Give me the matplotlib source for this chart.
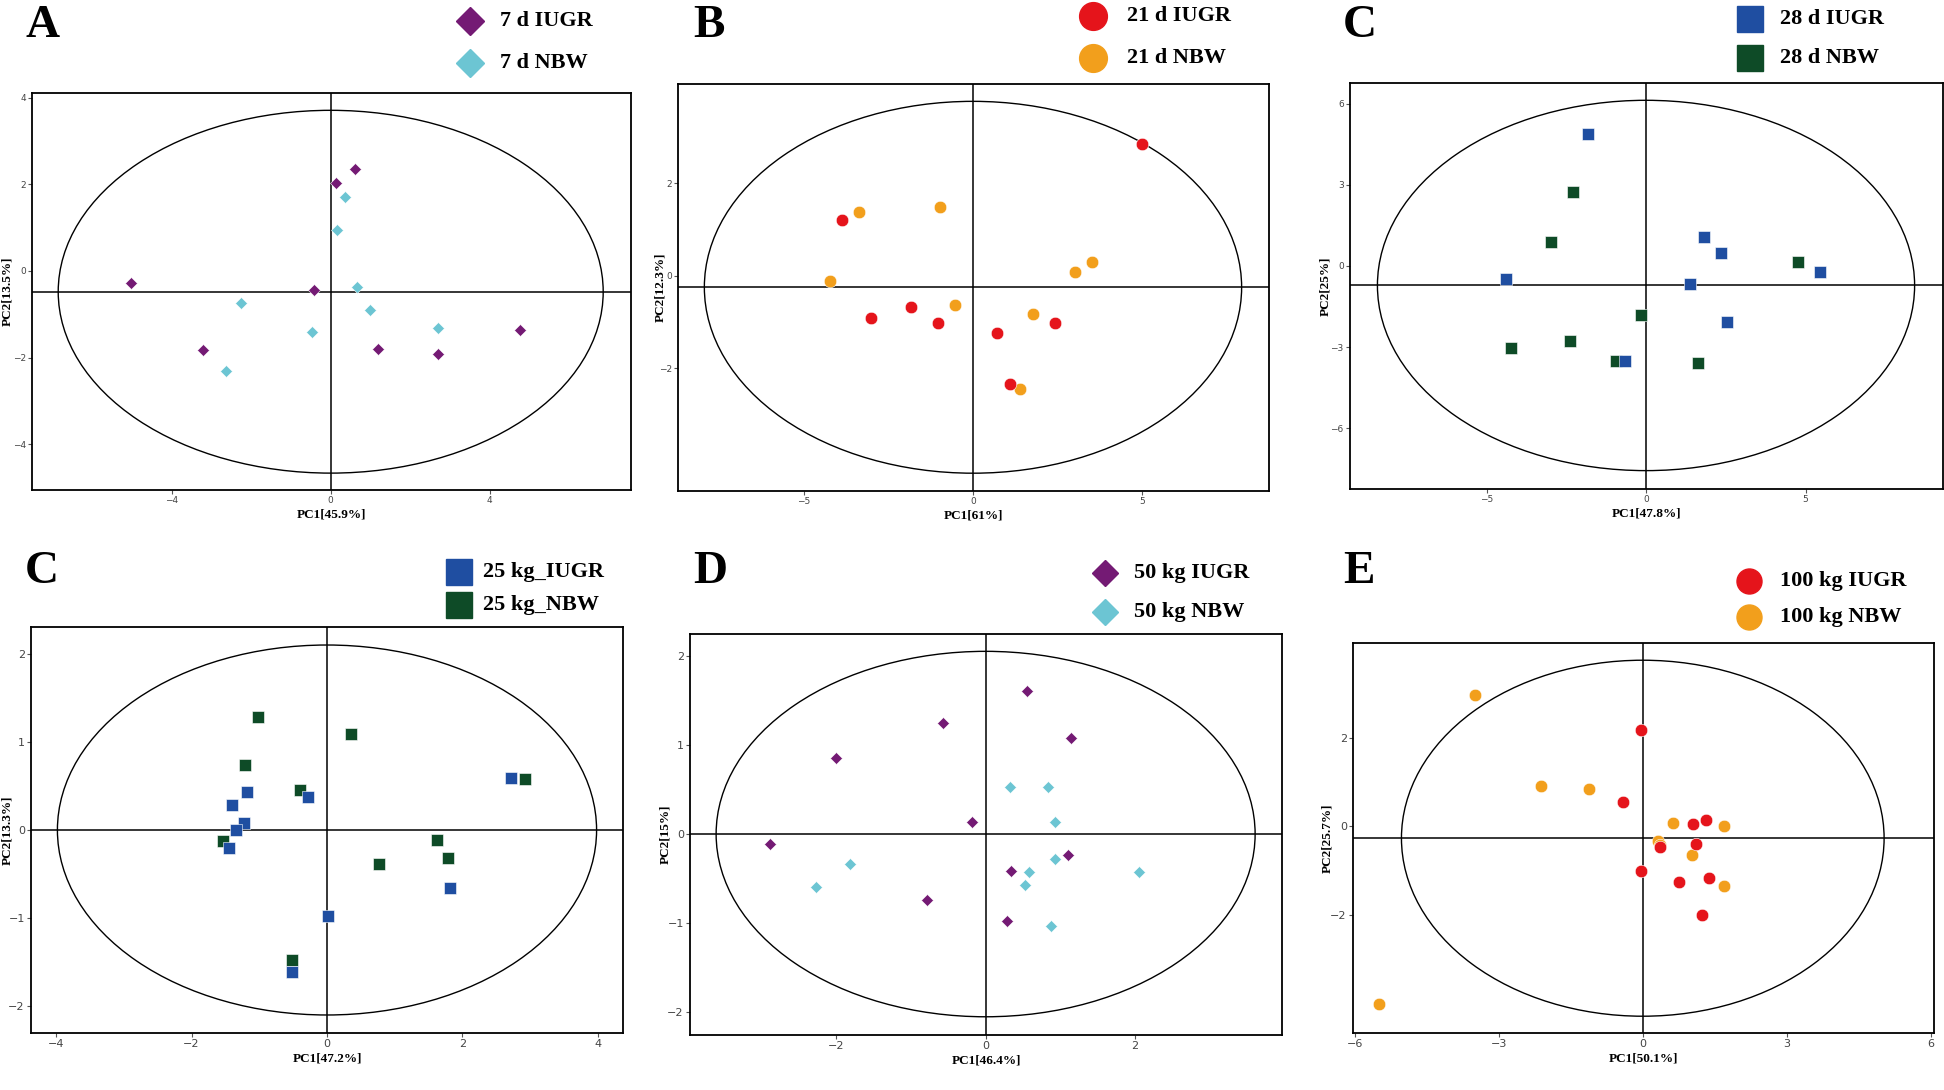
import matplotlib
matplotlib.use("Agg")
import matplotlib.pyplot as plt
from matplotlib.patches import Ellipse
from matplotlib.lines import Line2D

W, H = 1944, 1090

# ===== Panel A: 7 d =====
a_iugr_x = [0.62, 0.13, -5.03, -0.43, -3.22, 1.20, 2.69, 4.76]
a_iugr_y = [2.35, 2.04, -0.28, -0.45, -1.83, -1.80, -1.91, -1.37]
a_nbw_x = [0.36, 0.16, 0.66, -2.26, 1.00, -0.48, 2.69, -2.63]
a_nbw_y = [1.70, 0.95, -0.38, -0.74, -0.91, -1.40, -1.31, -2.32]

# ===== Panel B: 21 d =====
b_iugr_x = [5.01, -3.89, -3.03, -1.82, -1.04, 0.71, 2.44, 1.09]
b_iugr_y = [2.85, 1.20, -0.92, -0.68, -1.01, -1.23, -1.02, -2.34]
b_nbw_x = [-3.37, -0.98, -4.24, -0.54, 1.79, 3.03, 3.53, 1.40]
b_nbw_y = [1.38, 1.50, -0.12, -0.63, -0.83, 0.09, 0.30, -2.45]

# ===== Panel C (top): 28 d =====
c_iugr_x = [-1.81, -4.40, 1.82, 2.35, 1.37, 5.44, 2.53, -0.65]
c_iugr_y = [4.90, -0.47, 1.06, 0.48, -0.65, -0.21, -2.06, -3.53]
c_nbw_x = [-2.29, -2.99, 4.77, -0.17, -2.38, -4.23, -0.94, 1.63]
c_nbw_y = [2.72, 0.90, 0.14, -1.82, -2.77, -3.03, -3.51, -3.59]

# ===== Panel C (bottom): 25 kg =====
k25_iugr_x = [2.71, -1.18, -1.40, -0.28, -1.23, -1.35, -1.44, 1.82, 0.01, -0.51]
k25_iugr_y = [0.59, 0.43, 0.28, 0.37, 0.08, 0.00, -0.21, -0.66, -0.98, -1.62]
k25_nbw_x = [-1.02, 0.36, -1.21, -0.40, 2.93, -1.53, 1.62, 1.78, 0.77, -0.51]
k25_nbw_y = [1.29, 1.09, 0.74, 0.46, 0.58, -0.13, -0.11, -0.32, -0.39, -1.48]

# ===== Panel D: 50 kg =====
d_iugr_x = [0.56, -0.57, 1.14, -2.01, -0.18, -2.89, 1.11, 0.34, -0.78, 0.29]
d_iugr_y = [1.61, 1.25, 1.08, 0.86, 0.13, -0.11, -0.24, -0.41, -0.74, -0.98]
d_nbw_x = [0.33, 0.84, 0.93, 0.93, 0.58, 0.53, 2.06, -1.82, -2.27, 0.87]
d_nbw_y = [0.53, 0.53, 0.14, -0.28, -0.43, -0.57, -0.43, -0.34, -0.60, -1.03]

# ===== Panel E: 100 kg =====
e_iugr_x = [-0.04, -0.41, 1.05, 1.32, 1.10, 0.35, -0.03, 0.75, 1.38, 1.23]
e_iugr_y = [2.19, 0.55, 0.06, 0.14, -0.39, -0.48, -1.02, -1.25, -1.18, -2.01]
e_nbw_x = [-3.50, -2.13, -1.12, 0.62, 1.69, 0.32, 0.36, 1.03, 1.69, -5.50]
e_nbw_y = [2.98, 0.91, 0.85, 0.08, 0.01, -0.34, -0.43, -0.66, -1.35, -4.02]

# Hotelling ellipses (center y, semi-axis x, semi-axis y)
ell_params = [(-0.48, 6.86, 4.19), (-0.245, 7.95, 4.02), (-0.72, 8.42, 6.85),
              (0.0, 3.98, 2.105), (0.0, 3.61, 2.055), (-0.27, 5.03, 4.03)]

xlabels = ["PC1[45.9%]", "PC1[61%]", "PC1[47.8%]", "PC1[47.2%]", "PC1[46.4%]", "PC1[50.1%]"]
ylabels = ["PC2[13.5%]", "PC2[12.3%]", "PC2[25%]", "PC2[13.3%]", "PC2[15%]", "PC2[25.7%]"]
panel_letters = ["A", "B", "C", "C", "D", "E"]
legend_names = [("7 d IUGR", "7 d NBW"), ("21 d IUGR", "21 d NBW"), ("28 d IUGR", "28 d NBW"),
                ("25 kg_IUGR", "25 kg_NBW"), ("50 kg IUGR", "50 kg NBW"), ("100 kg IUGR", "100 kg NBW")]
xticks_list = [[-4, 0, 4], [-5, 0, 5], [-5, 0, 5], [-4, -2, 0, 2, 4], [-2, 0, 2], [-6, -3, 0, 3, 6]]
yticks_list = [[-4, -2, 0, 2, 4], [-2, 0, 2], [-6, -3, 0, 3, 6], [-2, -1, 0, 1, 2], [-2, -1, 0, 1, 2], [-2, 0, 2]]
xlims = [(-7.52, 7.56), (-8.73, 8.76), (-9.28, 9.31), (-4.37, 4.37), (-3.96, 3.97), (-6.04, 6.07)]
ylims = [(-5.06, 4.11), (-4.65, 4.15), (-8.25, 6.77), (-2.31, 2.31), (-2.26, 2.25), (-4.68, 4.15)]

PURPLE, CYAN = "#741a74", "#6cc5d3"
RED, ORANGE = "#e5141b", "#f29f1c"
BLUE, GREEN = "#1f4ea1", "#0e4b27"

panels = [
    (a_iugr_x, a_iugr_y, a_nbw_x, a_nbw_y, "D", PURPLE, CYAN, 6.0, 14.0),
    (b_iugr_x, b_iugr_y, b_nbw_x, b_nbw_y, "o", RED, ORANGE, 9.0, 20.0),
    (c_iugr_x, c_iugr_y, c_nbw_x, c_nbw_y, "s", BLUE, GREEN, 8.3, 18.5),
    (k25_iugr_x, k25_iugr_y, k25_nbw_x, k25_nbw_y, "s", BLUE, GREEN, 9.0, 18.5),
    (d_iugr_x, d_iugr_y, d_nbw_x, d_nbw_y, "D", PURPLE, CYAN, 6.3, 13.0),
    (e_iugr_x, e_iugr_y, e_nbw_x, e_nbw_y, "o", RED, ORANGE, 9.0, 18.0),
]

# pixel layout: axes box (left, right, top, bottom), letter pos, legend marker x/y, text x, ylabel x
boxes = [(32, 631, 93, 490), (678, 1269, 84, 491), (1350, 1943, 83, 489),
         (31, 623, 627, 1033), (690, 1282, 634, 1035), (1353, 1934, 643, 1033)]
letter_pos = [(25, 26), (693, 26), (1343, 26), (25, 572), (693, 572), (1343, 572)]
leg_pos = [(470, 21, 63, 500), (1093, 16, 58, 1127), (1750, 19, 58, 1780),
           (459, 572, 605, 483), (1105, 573, 612, 1134), (1749, 581, 617, 1780)]
ylabel_x = [7, 660, 1325, 7, 665, 1327]

SERIF = ["Liberation Serif", "DejaVu Serif"]

fig = plt.figure(figsize=(W / 100, H / 100), dpi=100)


def px(x, y):
    return x / W, 1 - y / H


for i, (ix, iy, nx, ny, mk, c1, c2, ms, lms) in enumerate(panels):
    l, r, t, b = boxes[i]
    ax = fig.add_axes([l / W, 1 - b / H, (r - l) / W, (b - t) / H])
    cy, ea, eb = ell_params[i]
    ax.add_patch(Ellipse((0, cy), 2 * ea, 2 * eb, fill=False, ec="black", lw=1.0))
    ax.axhline(cy, color="black", lw=1.1)
    ax.axvline(0, color="black", lw=1.1)
    ax.plot(nx, ny, ls="none", marker=mk, ms=ms, color=c2, mec="white", mew=0.4, zorder=3)
    ax.plot(ix, iy, ls="none", marker=mk, ms=ms, color=c1, mec="white", mew=0.4, zorder=3)
    ax.set_xlim(*xlims[i])
    ax.set_ylim(*ylims[i])
    ax.set_xticks(xticks_list[i])
    ax.set_yticks(yticks_list[i])
    fs = 6.5 if i < 3 else 8
    ax.tick_params(length=3, width=0.8, color="#555555", labelcolor="#444444", labelsize=fs, pad=1.5)
    for sp in ax.spines.values():
        sp.set_linewidth(1.3)
    ax.set_xlabel(xlabels[i], family=SERIF, fontweight="bold", fontsize=9.5, labelpad=2)
    ax.set_ylabel(ylabels[i], family=SERIF, fontweight="bold", fontsize=9.5, va="center")
    ax.yaxis.set_label_coords((ylabel_x[i] - l) / (r - l), 0.5)

    lx, ly = letter_pos[i]
    fig.text(*px(lx, ly), panel_letters[i], family=SERIF, fontweight="bold", fontsize=34,
             ha="left", va="center")

    mx, my1, my2, tx = leg_pos[i]
    for yy, col, name in [(my1, c1, legend_names[i][0]), (my2, c2, legend_names[i][1])]:
        fig.add_artist(Line2D([mx / W], [1 - yy / H], transform=fig.transFigure, ls="none",
                              marker=mk, ms=lms, color=col, mec=col))
        fig.text(*px(tx, yy), name, family=SERIF, fontweight="bold", fontsize=16,
                 ha="left", va="center")

fig.savefig("out.png", dpi=100)
